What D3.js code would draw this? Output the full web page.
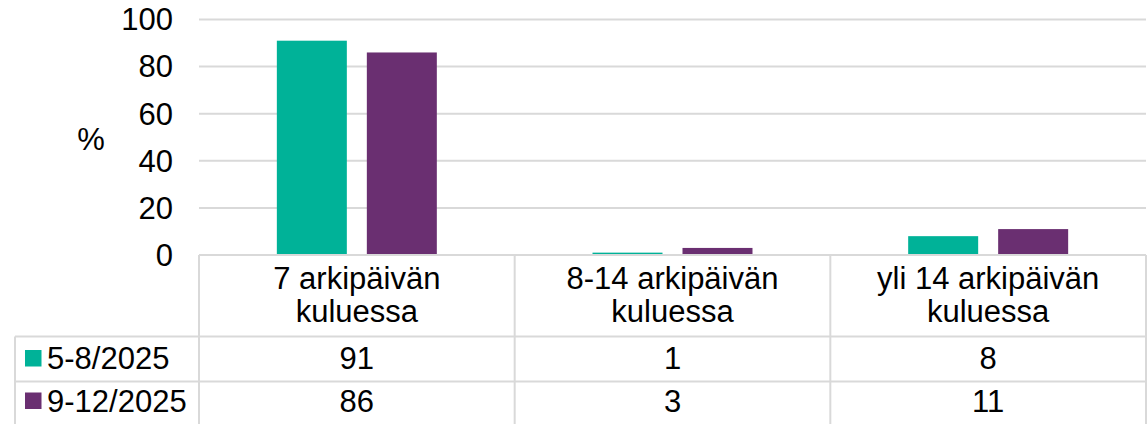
<!DOCTYPE html>
<html>
<head>
<meta charset="utf-8">
<script src="https://cdn.jsdelivr.net/npm/d3@7"></script>
<style>
html,body{margin:0;padding:0;background:#fff;}
svg{display:block;}
text{font-family:"Liberation Sans",Arial,sans-serif;fill:#000;}
</style>
</head>
<body>
<svg id="chart" width="1148" height="424"></svg>
<script>
const categories = [["7 arkipäivän","kuluessa"],["8-14 arkipäivän","kuluessa"],["yli 14 arkipäivän","kuluessa"]];
const seriesNames = ["5-8/2025","9-12/2025"];
const series1 = [91,1,8];
const series2 = [86,3,11];
const yTicks = [0,20,40,60,80,100];
const colors = ["#00B298","#6A2F71"];

const svg = d3.select("#chart");
const W = 1148, H = 424;
const plotL = 199, plotR = 1146, y0 = 255, y100 = 19.5;
const fs = 31;
const grid = "#D9D9D9";

const catKeys = categories.map((c,i)=>i);
const x = d3.scaleBand().domain(catKeys).range([plotL, plotR]);
const xs = d3.scaleBand().domain([0,1]).range([0, x.bandwidth()]).paddingInner(0.2222).paddingOuter(0.865);
const y = d3.scaleLinear().domain([0,100]).range([y0, y100]);

// gridlines
svg.append("g").selectAll("line").data(yTicks.filter(t=>t>0)).join("line")
  .attr("x1", plotL).attr("x2", plotR)
  .attr("y1", d=>y(d)).attr("y2", d=>y(d))
  .attr("stroke", grid).attr("stroke-width", 2);

// y tick labels
svg.append("g").selectAll("text").data(yTicks).join("text")
  .attr("x", 173).attr("y", d=>y(d)).attr("dy","0.35em")
  .attr("text-anchor","end").attr("font-size", fs).text(d=>d);

// % label
svg.append("text").attr("x", 91).attr("y", 150).attr("text-anchor","middle").attr("font-size", fs).text("%");

// bars
const allSeries = [series1, series2];
allSeries.forEach((vals, si)=>{
  svg.append("g").selectAll("rect").data(vals).join("rect")
    .attr("x", (d,i)=>x(i)+xs(si))
    .attr("width", xs.bandwidth())
    .attr("y", d=>y(d))
    .attr("height", d=>y0 - y(d))
    .attr("fill", colors[si]);
});

// data table
const rowTops = [y0, 336.5, 381.5, 427];
const legL = 15;
const tg = svg.append("g").attr("stroke", grid).attr("stroke-width", 2);
tg.append("line").attr("x1", plotL).attr("x2", plotR).attr("y1", rowTops[0]).attr("y2", rowTops[0]);
[1,2].forEach(r=>{
  tg.append("line").attr("x1", legL).attr("x2", plotR).attr("y1", rowTops[r]).attr("y2", rowTops[r]);
});
tg.append("line").attr("x1", legL).attr("x2", legL).attr("y1", rowTops[1]).attr("y2", H);
catKeys.forEach(i=>{
  tg.append("line").attr("x1", x(i)).attr("x2", x(i)).attr("y1", rowTops[0]).attr("y2", H);
});
tg.append("line").attr("x1", plotR).attr("x2", plotR).attr("y1", rowTops[0]).attr("y2", H);

// header labels
catKeys.forEach(i=>{
  const t = svg.append("text").attr("text-anchor","middle").attr("font-size", fs);
  categories[i].forEach((ln, li)=>{
    t.append("tspan").attr("x", x(i)+x.bandwidth()/2).attr("y", 289 + li*33.4).text(ln);
  });
});

// rows
const rowBase = [369, 411.5];
allSeries.forEach((vals, si)=>{
  svg.append("rect").attr("x", 25).attr("y", rowBase[si]-19).attr("width", 16.5).attr("height", 16.5).attr("fill", colors[si]);
  svg.append("text").attr("x", 47).attr("y", rowBase[si]).attr("font-size", fs).text(seriesNames[si]);
  svg.append("g").selectAll("text").data(vals).join("text")
    .attr("x", (d,i)=>x(i)+x.bandwidth()/2).attr("y", rowBase[si])
    .attr("text-anchor","middle").attr("font-size", fs).text(d=>d);
});
</script>
</body>
</html>
